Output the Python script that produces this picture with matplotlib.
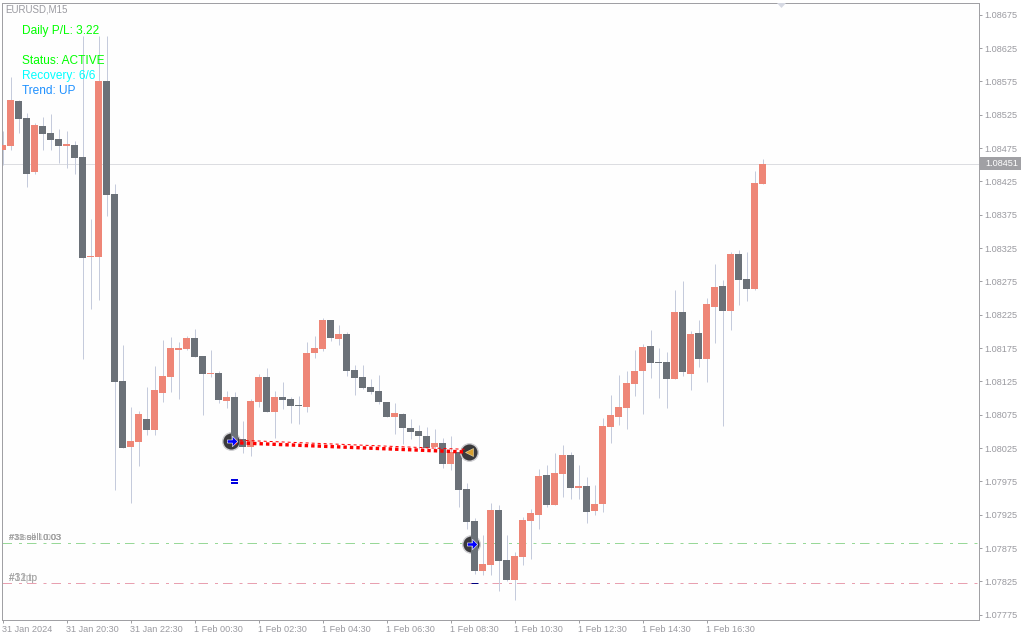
import matplotlib
matplotlib.use("Agg")
import matplotlib.pyplot as plt
from matplotlib.patches import Rectangle
from matplotlib.transforms import ScaledTranslation

opens = [1.08472, 1.08478, 1.08546, 1.08520, 1.08439, 1.08508, 1.08498, 1.08489, 1.08478, 1.08480, 1.08462, 1.08312,
	1.08312, 1.08576, 1.08406, 1.08126, 1.08027, 1.08034, 1.08069, 1.08052, 1.08108, 1.08132, 1.08172, 1.08174,
	1.08190, 1.08163, 1.08136, 1.08138, 1.08096, 1.08102, 1.08039, 1.08027, 1.08094, 1.08132, 1.08079, 1.08102,
	1.08099, 1.08090, 1.08087, 1.08168, 1.08174, 1.08217, 1.08189, 1.08196, 1.08142, 1.08132, 1.08117, 1.08111,
	1.08094, 1.08072, 1.08076, 1.08055, 1.08051, 1.08043, 1.08027, 1.08033, 1.08001, 1.08019, 1.07964, 1.07916,
	1.07841, 1.07850, 1.07932, 1.07857, 1.07827, 1.07862, 1.07916, 1.07925, 1.07985, 1.07940, 1.07986, 1.08015,
	1.07965, 1.07968, 1.07931, 1.07941, 1.08057, 1.08072, 1.08085, 1.08121, 1.08141, 1.08178, 1.08154, 1.08154,
	1.08129, 1.08229, 1.08136, 1.08198, 1.08159, 1.08237, 1.08268, 1.08231, 1.08316, 1.08279, 1.08264, 1.08421]
highs = [1.08501, 1.08582, 1.08547, 1.08528, 1.08513, 1.08522, 1.08526, 1.08504, 1.08501, 1.08486, 1.08643, 1.08369,
	1.08643, 1.08643, 1.08421, 1.08180, 1.08087, 1.08081, 1.08117, 1.08148, 1.08187, 1.08192, 1.08184, 1.08193,
	1.08204, 1.08163, 1.08172, 1.08141, 1.08111, 1.08109, 1.08066, 1.08099, 1.08136, 1.08145, 1.08111, 1.08124,
	1.08102, 1.08103, 1.08184, 1.08193, 1.08220, 1.08217, 1.08210, 1.08199, 1.08150, 1.08150, 1.08129, 1.08135,
	1.08094, 1.08093, 1.08078, 1.08069, 1.08060, 1.08057, 1.08054, 1.08040, 1.08043, 1.08019, 1.07973, 1.07920,
	1.07895, 1.07943, 1.07940, 1.07895, 1.07869, 1.07922, 1.07934, 1.07994, 1.08000, 1.08018, 1.08030, 1.08019,
	1.08000, 1.07982, 1.07970, 1.08070, 1.08105, 1.08135, 1.08141, 1.08172, 1.08181, 1.08202, 1.08175, 1.08169,
	1.08262, 1.08276, 1.08201, 1.08217, 1.08250, 1.08301, 1.08277, 1.08319, 1.08322, 1.08319, 1.08441, 1.08459]
lows = [1.08450, 1.08472, 1.08498, 1.08417, 1.08436, 1.08472, 1.08472, 1.08453, 1.08445, 1.08436, 1.08159, 1.08234,
	1.08247, 1.08373, 1.07962, 1.08025, 1.07943, 1.07998, 1.08045, 1.08045, 1.08094, 1.08109, 1.08099, 1.08172,
	1.08162, 1.08075, 1.08132, 1.08093, 1.08085, 1.08030, 1.08018, 1.08013, 1.08087, 1.08079, 1.08040, 1.08084,
	1.08063, 1.08061, 1.08079, 1.08160, 1.08171, 1.08186, 1.08180, 1.08133, 1.08105, 1.08114, 1.08106, 1.08091,
	1.08072, 1.08046, 1.08031, 1.08039, 1.08024, 1.08025, 1.08022, 1.07995, 1.07992, 1.07937, 1.07904, 1.07836,
	1.07835, 1.07835, 1.07811, 1.07826, 1.07797, 1.07850, 1.07859, 1.07904, 1.07937, 1.07940, 1.07952, 1.07949,
	1.07949, 1.07913, 1.07925, 1.07929, 1.08033, 1.08060, 1.08054, 1.08103, 1.08076, 1.08130, 1.08100, 1.08085,
	1.08129, 1.08133, 1.08112, 1.08147, 1.08124, 1.08183, 1.08058, 1.08202, 1.08240, 1.08246, 1.08262, 1.08421]
closes = [1.08480, 1.08547, 1.08519, 1.08436, 1.08510, 1.08496, 1.08487, 1.08478, 1.08481, 1.08460, 1.08310, 1.08313,
	1.08576, 1.08405, 1.08124, 1.08025, 1.08036, 1.08076, 1.08052, 1.08112, 1.08133, 1.08175, 1.08175, 1.08190,
	1.08162, 1.08136, 1.08138, 1.08097, 1.08102, 1.08033, 1.08027, 1.08096, 1.08132, 1.08079, 1.08102, 1.08097,
	1.08088, 1.08088, 1.08168, 1.08175, 1.08217, 1.08190, 1.08196, 1.08141, 1.08130, 1.08115, 1.08109, 1.08094,
	1.08072, 1.08078, 1.08055, 1.08049, 1.08043, 1.08025, 1.08033, 1.08001, 1.08019, 1.07962, 1.07914, 1.07841,
	1.07851, 1.07932, 1.07856, 1.07827, 1.07863, 1.07917, 1.07928, 1.07983, 1.07940, 1.07988, 1.08015, 1.07965,
	1.07968, 1.07929, 1.07941, 1.08058, 1.08075, 1.08087, 1.08123, 1.08141, 1.08177, 1.08153, 1.08153, 1.08129,
	1.08229, 1.08139, 1.08196, 1.08159, 1.08241, 1.08267, 1.08231, 1.08316, 1.08277, 1.08264, 1.08423, 1.08451]

price_ticks = [1.07775, 1.07825, 1.07875, 1.07925, 1.07975, 1.08025, 1.08075, 1.08125, 1.08175, 1.08225, 1.08275,
	1.08325, 1.08375, 1.08425, 1.08475, 1.08525, 1.08575, 1.08625, 1.08675]
time_ticks = [0, 8, 16, 24, 32, 40, 48, 56, 64, 72, 80, 88]
time_labels = ["31 Jan 2024", "31 Jan 20:30", "31 Jan 22:30", "1 Feb 00:30", "1 Feb 02:30", "1 Feb 04:30",
	"1 Feb 06:30", "1 Feb 08:30", "1 Feb 10:30", "1 Feb 12:30", "1 Feb 14:30", "1 Feb 16:30"]

last_price = 1.08451
tp_price = 1.07882
sl_price = 1.07822

# trade markers: bar position and price
open_bar, open_price = 28.6, 1.08035
close_bar, close_price = 58.3, 1.08019
second_bar, second_price = 58.6, 1.07881
trail_start = (28.9, 1.08033)
trail_end = (57.9, 1.08019)
stop_bar = 29
stop_prices = [1.07977, 1.07973]
tp_bar = 59
shift_bar, shift_price = 97.37, 1.086888

hud_labels = ["Daily P/L: 3.22", "Status: ACTIVE", "Recovery: 6/6", "Trend: UP"]
hud_colors = ["#00ff00", "#00ff00", "#00ffff", "#1e90ff"]
hud_rows = [31, 61, 76, 91]

tp_texts = ["#38 sell 0.03", "#31 sell 0.03", "#32 sell 0.03", "#1 sell 1.003"]
sl_texts = ["#31 tp", "#32 tp", "#1 tp"]

W, H = 1024, 640
SALMON = "#ee8677"
GRAY = "#6b7178"
WICK = "#c5cbdc"
FRAME = "#a0a0a4"
TEXT = "#9a9aa0"
px = 0.72  # one pixel in points at dpi 100


def velas(ax):
	for i in range(len(opens)):
		cor = SALMON if closes[i] >= opens[i] else GRAY
		ax.vlines(i, lows[i], highs[i], color=WICK, lw=px, zorder=2)
		ax.bar(i, abs(closes[i] - opens[i]), bottom=min(opens[i], closes[i]), width=7 / 8, color=cor,
			linewidth=0, zorder=3)


def seta(ax, bar, price):
	forma = [(-1, -0.3), (0, -0.3), (0, -1), (1, 0), (0, 1), (0, 0.3), (-1, 0.3), (-1, -0.3)]
	ax.plot([bar], [price], marker=forma, ms=7.5, mfc="#0000ff", mec="#ffffff", mew=0.4, zorder=7)


def marcadores(ax):
	# circulos atras das velas
	for bar, price in [(open_bar, open_price), (second_bar, second_price)]:
		ax.plot([bar], [price], "o", ms=12.6, mfc="#3a3a3c", mec="#cfcfd3", mew=1, zorder=2.5)
	ax.plot([close_bar], [close_price], "o", ms=12.6, mfc="#3a3a3c", mec="#cfcfd3", mew=1, zorder=4)
	seta(ax, open_bar + 0.05, open_price)
	seta(ax, second_bar + 0.05, second_price)
	ax.plot([close_bar + 0.05], [close_price], marker="<", ms=6, mfc="#d8a030", mec="#f0e0b0", mew=0.4, zorder=7)

	# linha vermelha pontilhada entre entrada e saida
	xs = [trail_start[0], trail_end[0]]
	ax.plot(xs, [trail_start[1], trail_end[1]], color="#ff0000", lw=3.4 * px, ls=(0, (1, 0.9)), zorder=6)
	ax.plot(xs, [trail_start[1] + 0.00004, trail_end[1] + 0.00004], color="#ff0000", lw=px, ls=(0, (3, 3)), zorder=6)

	for p in stop_prices:
		ax.hlines(p, stop_bar - 0.44, stop_bar + 0.44, color="#0000e0", lw=2 * px, zorder=6)
	ax.hlines(sl_price, tp_bar - 0.44, tp_bar + 0.44, color="#000080", lw=px, zorder=6)


def main():
	fig = plt.figure(figsize=(W / 100, H / 100), dpi=100, facecolor="white")
	plt.rcParams["font.family"] = ["Liberation Sans", "DejaVu Sans"]
	ax = fig.add_axes([1.5 / W, 1 - 619.5 / H, 977 / W, 617 / H])
	ax.set_facecolor("#fefefe")
	ax.set_xlim(-0.125, 122)
	ax.set_ylim(1.0776775, 1.0869325)

	for lado in ax.spines.values():
		lado.set_color(FRAME)
		lado.set_linewidth(px)

	ax.yaxis.tick_right()
	ax.set_yticks(price_ticks)
	ax.set_yticklabels([f"{p:.5f}" for p in price_ticks], fontsize=6.6, color=TEXT)
	ax.set_xticks(time_ticks)
	ax.set_xticklabels(time_labels, fontsize=6.6, color=TEXT, ha="left")
	ax.tick_params(axis="y", length=2.4, width=px, color=FRAME, pad=1.8)
	ax.tick_params(axis="x", length=2.4, width=px, color=FRAME, pad=1.8)
	recuo = ScaledTranslation(-1 / 100, 0, fig.dpi_scale_trans)
	for rotulo in ax.get_xticklabels():
		rotulo.set_transform(rotulo.get_transform() + recuo)

	ax.axhline(last_price + 0.000005, color="#dcdde1", lw=px, zorder=1)
	ax.axhline(tp_price, color="#98d898", lw=px, ls=(0, (9.5, 7, 3, 5)), zorder=1)
	ax.axhline(sl_price, color="#e8a0b0", lw=px, ls=(0, (9.5, 7, 3, 5)), zorder=1)

	velas(ax)
	marcadores(ax)

	# triangulo do deslocamento do grafico
	ax.plot([shift_bar], [shift_price], marker=[(-1, 0.55), (1, 0.55), (0, -0.55)], ms=6.5, color="#d6d9e3",
		mew=0, zorder=5, clip_on=False)

	fig.text(5.5 / W, 1 - 10 / H, "EURUSD,M15", fontsize=7, color=TEXT, va="center")
	for texto, cor, linha in zip(hud_labels, hud_colors, hud_rows):
		fig.text(22 / W, 1 - linha / H, texto, fontsize=8.6, color=cor, va="center", zorder=8)
	for texto in tp_texts:
		fig.text(9 / W, 1 - 538 / H, texto, fontsize=6.6, color="#a0a0a0", va="center", alpha=0.75)
	for texto in sl_texts:
		fig.text(9 / W, 1 - 578 / H, texto, fontsize=7.2, color="#a0a0a0", va="center", alpha=0.75)

	fig.add_artist(Rectangle((980 / W, 1 - 170 / H), 41 / W, 13 / H, transform=fig.transFigure, fc=FRAME, ec="none"))
	fig.text(985 / W, 1 - 163.5 / H, f"{last_price:.5f}", fontsize=6.6, color="white", va="center")

	fig.savefig("out.png", dpi=100)


if __name__ == "__main__":
	main()
